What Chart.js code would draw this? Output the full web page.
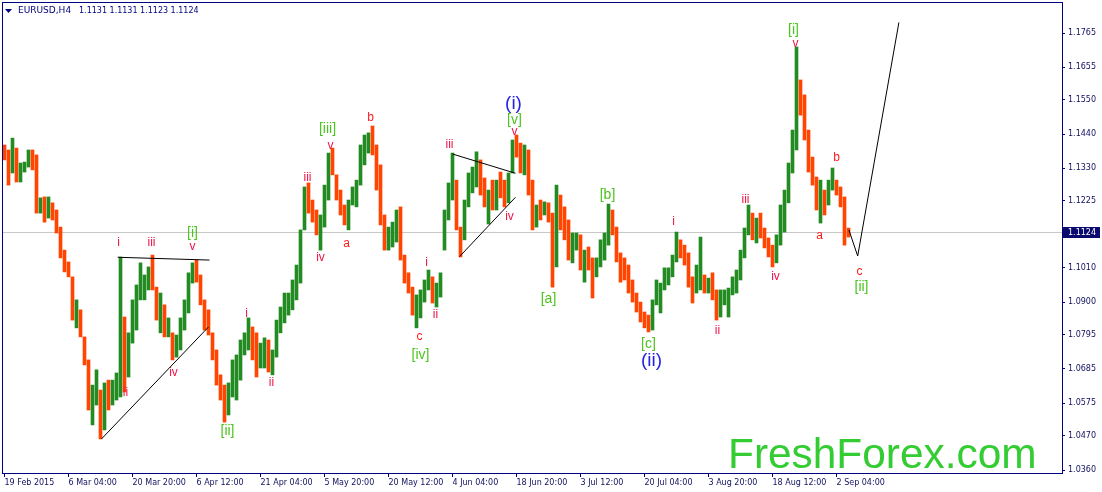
<!DOCTYPE html>
<html><head><meta charset="utf-8">
<script src="https://cdn.jsdelivr.net/npm/chart.js@4.4.1/dist/chart.umd.min.js"></script>
<style>html,body{margin:0;padding:0;background:#fff;overflow:hidden}#wrap{width:1102px;height:492px;position:relative}</style>
</head><body><div id="wrap"><canvas id="c" width="1102" height="492"></canvas></div>
<script>
// ---------- data ----------
const symbolTitle = 'EURUSD,H4';
const titleQuote = '1.1131 1.1131 1.1123 1.1124';
const watermark = 'FreshForex.com';
const firstOpen = 1.1390;
const highs = [
1.1405,1.1389,1.1427,1.1395,1.1347,1.1350,1.1389,1.1389,1.1373,1.1235,
1.1238,1.1238,1.1219,1.1196,1.1141,1.1067,1.1029,1.0981,1.0907,1.0875,
1.0788,1.0714,1.0633,1.0682,1.0617,1.0640,1.0649,1.0649,1.0672,1.1045,
1.0852,1.0801,1.0907,1.0955,1.1026,1.0987,1.1013,1.1051,1.0948,1.0929,
1.0891,1.0849,1.0801,1.0794,1.0849,1.0907,1.0994,1.1026,1.1035,1.0987,
1.0907,1.0875,1.0801,1.0746,1.0666,1.0633,1.0640,1.0714,1.0730,1.0778,
1.0801,1.0849,1.0820,1.0801,1.0768,1.0785,1.0778,1.0746,1.0842,1.0884,
1.0929,1.0929,1.0971,1.1019,1.1132,1.1270,1.1283,1.1228,1.1196,1.1180,
1.1276,1.1379,1.1395,1.1309,1.1260,1.1212,1.1228,1.1270,1.1292,1.1405,
1.1437,1.1444,1.1466,1.1405,1.1341,1.1180,1.1141,1.1157,1.1196,1.1206,
1.1051,1.0994,1.0948,1.0923,1.0939,1.0971,1.1003,1.0981,1.0961,1.0994,
1.1196,1.1283,1.1379,1.1292,1.1141,1.1228,1.1315,1.1334,1.1383,1.1357,
1.1299,1.1260,1.1292,1.1292,1.1318,1.1292,1.1315,1.1421,1.1437,1.1411,
1.1405,1.1389,1.1292,1.1212,1.1228,1.1222,1.1219,1.1186,1.1276,1.1244,
1.1206,1.1164,1.1122,1.1122,1.1116,1.1067,1.1077,1.1042,1.1042,1.1100,
1.1122,1.1215,1.1196,1.1141,1.1058,1.1042,1.1019,1.0971,1.0929,1.0900,
1.0868,1.0858,1.0907,1.0971,1.0961,1.1010,1.1010,1.1051,1.1125,1.1100,
1.1083,1.1058,1.0981,1.1019,1.1109,1.0987,1.0977,1.0994,1.0939,1.0939,
1.0939,1.0945,1.0981,1.1003,1.1067,1.1138,1.1212,1.1186,1.1170,1.1186,
1.1138,1.1106,1.1083,1.1116,1.1212,1.1260,1.1347,1.1453,1.1720,1.1614,
1.1566,1.1453,1.1366,1.1302,1.1292,1.1260,1.1292,1.1331,1.1292,1.1270,
1.1238,1.1138];
const lows = [
1.1357,1.1276,1.1315,1.1286,1.1286,1.1318,1.1334,1.1325,1.1186,1.1186,
1.1157,1.1170,1.1164,1.1122,1.1042,1.0997,1.0981,1.0842,1.0817,1.0788,
1.0698,1.0553,1.0505,1.0569,1.0460,1.0489,1.0553,1.0569,1.0585,1.0595,
1.0611,1.0659,1.0768,1.0810,1.0907,1.0907,1.0939,1.0939,1.0842,1.0801,
1.0788,1.0788,1.0714,1.0723,1.0746,1.0810,1.0865,1.0961,1.0964,1.0891,
1.0810,1.0794,1.0714,1.0633,1.0585,1.0514,1.0537,1.0595,1.0585,1.0649,
1.0730,1.0746,1.0714,1.0659,1.0688,1.0688,1.0675,1.0666,1.0723,1.0801,
1.0833,1.0858,1.0875,1.0907,1.0961,1.1132,1.1186,1.1157,1.1116,1.1067,
1.1141,1.1228,1.1309,1.1228,1.1180,1.1148,1.1132,1.1212,1.1206,1.1276,
1.1341,1.1379,1.1373,1.1260,1.1148,1.1067,1.1067,1.1077,1.1093,1.1035,
1.0961,1.0929,1.0858,1.0817,1.0849,1.0900,1.0939,1.0897,1.0884,1.0916,
1.1067,1.1164,1.1228,1.1132,1.1045,1.1100,1.1206,1.1251,1.1270,1.1244,
1.1206,1.1151,1.1196,1.1196,1.1235,1.1206,1.1219,1.1315,1.1366,1.1315,
1.1309,1.1244,1.1132,1.1141,1.1164,1.1180,1.1157,1.0948,1.1013,1.1132,
1.1100,1.1035,1.1026,1.1067,1.1003,1.0964,1.1003,1.0913,1.0981,1.1013,
1.1035,1.1083,1.1116,1.1029,1.0964,1.0971,1.0929,1.0900,1.0868,1.0836,
1.0817,1.0804,1.0810,1.0891,1.0865,1.0939,1.0955,1.0981,1.1029,1.1042,
1.1019,1.0948,1.0897,1.0929,1.0939,1.0929,1.0929,1.0907,1.0842,1.0852,
1.0891,1.0852,1.0923,1.0929,1.0971,1.1042,1.1116,1.1100,1.1090,1.1106,
1.1074,1.1045,1.1013,1.1026,1.1083,1.1125,1.1219,1.1315,1.1389,1.1501,
1.1421,1.1318,1.1276,1.1196,1.1154,1.1180,1.1212,1.1260,1.1244,1.1206,
1.1083,1.1109];
const closes = [
1.1383,1.1357,1.1389,1.1325,1.1331,1.1341,1.1373,1.1357,1.1212,1.1219,
1.1196,1.1212,1.1180,1.1138,1.1061,1.1019,1.0987,1.0875,1.0891,1.0794,
1.0714,1.0601,1.0601,1.0633,1.0521,1.0617,1.0601,1.0617,1.0633,1.0842,
1.0633,1.0778,1.0891,1.0939,1.0955,1.0971,1.0987,1.0955,1.0858,1.0907,
1.0810,1.0826,1.0746,1.0778,1.0842,1.0891,1.0977,1.1003,1.0987,1.0907,
1.0842,1.0810,1.0730,1.0649,1.0617,1.0569,1.0617,1.0682,1.0714,1.0762,
1.0778,1.0810,1.0762,1.0746,1.0752,1.0762,1.0698,1.0730,1.0826,1.0868,
1.0907,1.0913,1.0955,1.1003,1.1116,1.1244,1.1212,1.1180,1.1138,1.1164,
1.1260,1.1357,1.1325,1.1244,1.1196,1.1164,1.1212,1.1244,1.1276,1.1389,
1.1405,1.1421,1.1389,1.1276,1.1164,1.1100,1.1116,1.1132,1.1164,1.1051,
1.0977,1.0939,1.0875,1.0907,1.0923,1.0955,1.0971,1.0907,1.0939,1.0971,
1.1180,1.1260,1.1276,1.1148,1.1116,1.1212,1.1292,1.1309,1.1357,1.1276,
1.1228,1.1244,1.1228,1.1276,1.1260,1.1244,1.1309,1.1405,1.1389,1.1357,
1.1373,1.1260,1.1164,1.1196,1.1190,1.1212,1.1180,1.1019,1.1228,1.1164,
1.1116,1.1067,1.1083,1.1100,1.1035,1.1051,1.1029,1.1019,1.1029,1.1067,
1.1100,1.1180,1.1132,1.1042,1.1003,1.0997,1.0955,1.0913,1.0891,1.0849,
1.0842,1.0826,1.0891,1.0907,1.0939,1.0987,1.0997,1.1035,1.1083,1.1067,
1.1042,1.0971,1.0955,1.0971,1.0975,1.0955,1.0964,1.0923,1.0907,1.0913,
1.0923,1.0939,1.0955,1.0987,1.1051,1.1116,1.1164,1.1132,1.1148,1.1132,
1.1083,1.1067,1.1051,1.1100,1.1190,1.1244,1.1325,1.1421,1.1582,1.1550,
1.1437,1.1341,1.1292,1.1228,1.1244,1.1228,1.1276,1.1292,1.1267,1.1228,
1.1125,1.1124];
const xTickIndex = [0,16,32,48,64,80,96,112,128,144,160,176,192,208];
const xTickLabels = ['19 Feb 2015','6 Mar 04:00','20 Mar 20:00','6 Apr 12:00','21 Apr 04:00','5 May 20:00','20 May 12:00','4 Jun 04:00','18 Jun 20:00','3 Jul 12:00','20 Jul 04:00','3 Aug 20:00','18 Aug 12:00','2 Sep 04:00'];
const priceTicks = [1.0360,1.0470,1.0575,1.0685,1.0795,1.0900,1.1010,1.1225,1.1330,1.1440,1.1550,1.1655,1.1765];
// wave labels: [text, bar index, price, degree]
const waveLabels = [
['i',28.5,1.1090,'m'],['iii',36.75,1.1090,'m'],['[i]',47,1.1122,'g'],['v',47,1.1077,'m'],
['ii',30.25,1.0608,'m'],['iv',42.25,1.0672,'m'],['[ii]',55.75,1.0486,'g'],
['i',60.5,1.0862,'m'],['ii',66.75,1.0640,'m'],['iii',75.75,1.1299,'m'],['iv',79,1.1042,'m'],
['[iii]',80.75,1.1456,'g'],['v',81.5,1.1402,'m'],['a',85.5,1.1087,'r'],['b',91.5,1.1492,'r'],
['c',103.75,1.0788,'r'],['[iv]',104,1.0730,'g'],['i',105.5,1.1026,'m'],['ii',107.75,1.0858,'m'],
['iii',111.25,1.1405,'m'],['iv',126.25,1.1173,'m'],['(i)',127.25,1.1537,'b'],['[v]',127.5,1.1485,'g'],
['v',127.5,1.1447,'m'],['[a]',136,1.0910,'g'],['[b]',150.75,1.1244,'g'],['i',167.25,1.1157,'m'],
['[c]',161,1.0765,'g'],['(ii)',161.75,1.0711,'b'],['ii',178.25,1.0807,'m'],['iii',185.25,1.1228,'m'],
['iv',192.75,1.0981,'m'],['[i]',197.25,1.1775,'g'],['v',197.75,1.1730,'m'],['b',208,1.1363,'r'],
['a',203.75,1.1112,'r'],['c',213.75,1.0997,'r'],['[ii]',214.25,1.0948,'g']
];
// pattern lines: [[bar index, price], ...]
const patternLines = [
[[28.3,1.1044],[51.25,1.1035]],
[[24.25,1.0460],[51,1.0820]],
[[112,1.1376],[127.75,1.1314]],
[[113.75,1.1046],[127.75,1.1237]]
];
const projectionPath = [[211.1,1.1132],[213.3,1.1048],[223.6,1.1799]];

// ---------- chart ----------
const NAVY = '#000080';
const UP = '#228b22', DOWN = '#ff4500';
const bars = highs.map((h,i)=>({x:i, y:[lows[i], h]}));
const barColors = closes.map((c,i)=>{ const o = i===0 ? firstOpen : closes[i-1]; return c >= o ? UP : DOWN; });
const lastClose = closes[closes.length-1];

const decor = {
  id:'decor',
  beforeDatasetsDraw(chart){
    const {ctx, chartArea:a, scales:{y}} = chart;
    const py = Math.round(y.getPixelForValue(lastClose))+0.5;
    ctx.save();
    ctx.strokeStyle = '#c8c8c8'; ctx.lineWidth = 1;
    ctx.beginPath(); ctx.moveTo(a.left, py); ctx.lineTo(a.right, py); ctx.stroke();
    ctx.restore();
  },
  afterDraw(chart){
    const {ctx, chartArea:a, scales:{x,y}} = chart;
    const P = (pt)=>[x.getPixelForValue(pt[0]), y.getPixelForValue(pt[1])];
    ctx.save();
    ctx.strokeStyle = '#000'; ctx.lineWidth = 1;
    patternLines.forEach(l=>{ ctx.beginPath(); const p0=P(l[0]), p1=P(l[1]); ctx.moveTo(p0[0],p0[1]); ctx.lineTo(p1[0],p1[1]); ctx.stroke(); });
    ctx.beginPath();
    projectionPath.forEach((pt,i)=>{ const p=P(pt); if(i===0) ctx.moveTo(p[0],p[1]); else ctx.lineTo(p[0],p[1]); });
    ctx.stroke();
    ctx.textAlign='center'; ctx.textBaseline='middle';
    const styles = {
      m:{font:'12px "Liberation Sans", Arial, sans-serif', color:'#ee1448'},
      r:{font:'12px "Liberation Sans", Arial, sans-serif', color:'#ff1a1a'},
      g:{font:'14px "Liberation Sans", Arial, sans-serif', color:'#4cc41e'},
      b:{font:'19px "Liberation Sans", Arial, sans-serif', color:'#2323e6'}
    };
    waveLabels.forEach(([t,i,p,d])=>{ const s=styles[d]; ctx.font=s.font; ctx.fillStyle=s.color; const q=P([i,p]); ctx.fillText(t,q[0],q[1]); });
    ctx.textAlign='left'; ctx.textBaseline='alphabetic';
    ctx.font='100px "Liberation Sans", Arial, sans-serif';
    const w = ctx.measureText(watermark).width;
    const fs = 100*309/w;
    ctx.font = fs.toFixed(1)+'px "Liberation Sans", Arial, sans-serif';
    ctx.fillStyle='#33cc33';
    ctx.fillText(watermark, 728, 468);
    ctx.strokeStyle = NAVY; ctx.lineWidth = 1;
    ctx.strokeRect(Math.round(a.left)+0.5, Math.round(a.top)+0.5, Math.round(a.right-a.left), Math.round(a.bottom-a.top));
    const py = Math.round(y.getPixelForValue(lastClose));
    ctx.fillStyle = '#0a0a6e';
    ctx.fillRect(a.right+1, py-5, 37, 11);
    ctx.fillStyle = '#fff'; ctx.font = '8px "DejaVu Sans", sans-serif'; ctx.textBaseline='middle';
    ctx.fillText(lastClose.toFixed(4), a.right+6, py+0.5);
    ctx.fillStyle = NAVY;
    ctx.beginPath(); ctx.moveTo(5,9); ctx.lineTo(12,9); ctx.lineTo(8.5,13); ctx.closePath(); ctx.fill();
    ctx.font = '9px "DejaVu Sans", sans-serif';
    ctx.fillText(symbolTitle, 18, 11);
    ctx.font = '8px "DejaVu Sans", sans-serif';
    ctx.fillText(titleQuote, 79, 11);
    ctx.restore();
  }
};

function noPad(s){ s.paddingTop = 0; s.paddingBottom = 0; s.paddingLeft = 0; s.paddingRight = 0; }

new Chart(document.getElementById('c'), {
  type:'bar',
  data:{ datasets:[{ data:bars, backgroundColor:barColors, borderWidth:0, barThickness:3, grouped:false }] },
  options:{
    responsive:false, animation:false, devicePixelRatio:1,
    layout:{ padding:{left:2, top:2, right:0, bottom:0} },
    plugins:{ legend:{display:false}, tooltip:{enabled:false} },
    scales:{
      x:{ type:'linear', min:-0.625, max:264.375, offset:false,
          grid:{ display:true, drawOnChartArea:false, drawTicks:true, tickLength:4, color:NAVY, offset:false },
          border:{ display:true, color:NAVY },
          afterBuildTicks(s){ s.ticks = xTickIndex.map(v=>({value:v})); },
          afterFit(s){ s.height = 19; noPad(s); },
          ticks:{ autoSkip:false, maxRotation:0, minRotation:0, align:'start', padding:1, color:'#101060',
                  font:{family:'"DejaVu Sans", sans-serif', size:8},
                  callback:(v,i)=>xTickLabels[i] } },
      y:{ type:'linear', position:'right', min:1.03504, max:1.18647,
          grid:{ display:true, drawOnChartArea:false, drawTicks:true, tickLength:3, color:NAVY },
          border:{ display:true, color:NAVY },
          afterBuildTicks(s){ s.ticks = priceTicks.map(v=>({value:v})); },
          afterFit(s){ s.width = 40; noPad(s); },
          ticks:{ autoSkip:false, padding:3, color:'#101060', font:{family:'"DejaVu Sans", sans-serif', size:8},
                  callback:(v)=>Number(v).toFixed(4) } }
    }
  },
  plugins:[decor]
});
</script></body></html>
